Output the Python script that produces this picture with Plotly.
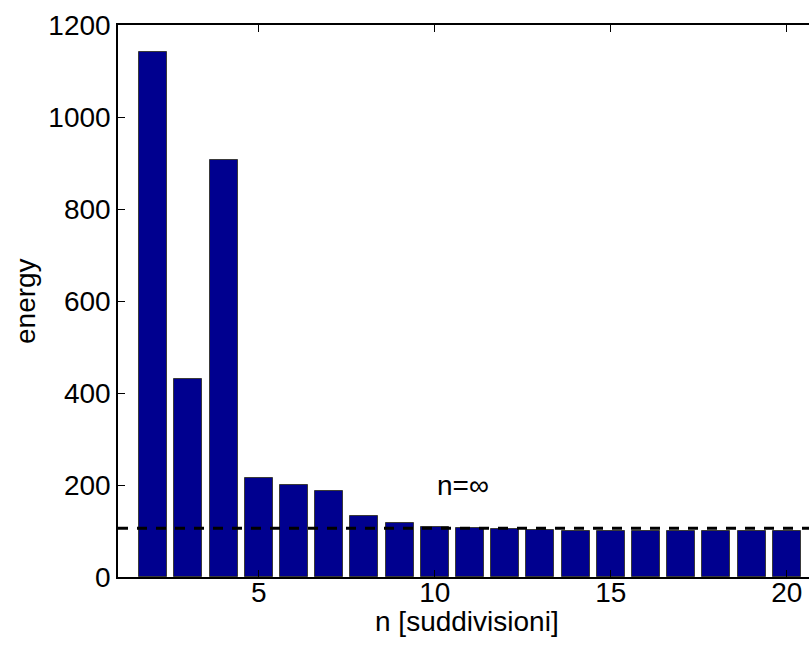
import plotly.graph_objects as go

# ---- data ----
n_values = list(range(2, 21))
energy = [1141, 430, 906, 215, 199, 187, 132, 117, 109, 106, 104, 102, 101,
          101, 101, 101, 101, 101, 101]
limit_x = [1, 21]
limit_y = [106, 106]
x_ticks = [5, 10, 15, 20]
y_ticks = [0, 200, 400, 600, 800, 1000, 1200]

FONT = "Liberation Sans, Arial, Helvetica, sans-serif"
FS = 28

fig = go.Figure()
fig.add_trace(go.Bar(
    x=n_values, y=energy, width=0.8,
    marker=dict(color="#00008F", line=dict(color="#3a3a3a", width=1)),
    showlegend=False, hoverinfo="x+y",
))
fig.add_trace(go.Scatter(
    x=limit_x, y=limit_y, mode="lines",
    line=dict(color="black", width=3, dash="10px,9px"),
    showlegend=False, hoverinfo="skip",
))

W, H = 809, 646
ml, mr, mt, mb = 118, 0, 25, 69
px_per_unit = 35.2
x_right = 1 + (W - ml - mr) / px_per_unit

fig.update_layout(
    width=W, height=H,
    margin=dict(l=ml, r=mr, t=mt, b=mb, pad=0),
    plot_bgcolor="white", paper_bgcolor="white",
    font=dict(family=FONT, size=FS, color="black"),
    bargap=0,
    xaxis=dict(
        range=[1, x_right], tickvals=x_ticks, ticks="inside", ticklen=7,
        tickcolor="black", showline=True, linecolor="black", linewidth=1.5,
        mirror="ticks", showgrid=False, zeroline=False,
        tickfont=dict(size=FS), fixedrange=True, ticklabelstandoff=-10,
    ),
    yaxis=dict(
        range=[0, 1200], tickvals=y_ticks, ticks="inside", ticklen=7,
        tickcolor="black", showline=True, linecolor="black", linewidth=1.5,
        showgrid=False, zeroline=False, tickfont=dict(size=FS), fixedrange=True,
    ),
    annotations=[
        dict(x=10, y=200, xref="x", yref="y", text="n=∞", showarrow=False,
             xanchor="left", yanchor="middle", font=dict(size=FS)),
        dict(x=(467 - ml) / (W - ml - mr), y=-44 / (H - mt - mb),
             xref="paper", yref="paper", text="n [suddivisioni]",
             showarrow=False, xanchor="center", yanchor="middle",
             font=dict(size=FS)),
        dict(x=(25 - ml) / (W - ml - mr), y=0.5, xref="paper", yref="paper",
             text="energy", textangle=-90, showarrow=False,
             xanchor="center", yanchor="middle", font=dict(size=FS)),
    ],
)

fig.write_html("out.html")
